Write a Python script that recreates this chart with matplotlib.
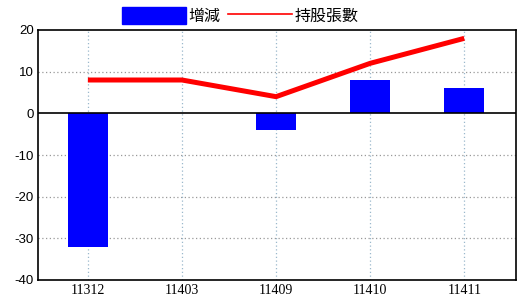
import matplotlib
matplotlib.use('Agg')
import matplotlib.pyplot as plt
import numpy as np
from matplotlib.patches import Rectangle
from matplotlib.lines import Line2D

months = ['11312', '11403', '11409', '11410', '11411']
change = [-32, 0, -4, 8, 6]
holdings = [8, 8, 4, 12, 18]
yticks = [20, 10, 0, -10, -20, -30, -40]

plt.rcParams['font.family'] = ['Noto Sans CJK TC', 'DejaVu Sans']

fig = plt.figure(figsize=(5.2, 3.0), dpi=100)
ax = fig.add_axes([38 / 520, 20 / 300, 478 / 520, 250 / 300])

x = np.arange(len(months))
ax.bar(x, change, width=0.43, color='#0000ff', zorder=3)
ax.plot(x, holdings, color='#ff0000', linewidth=3.6, zorder=4, solid_capstyle='butt')

ax.set_xlim(-0.53, 4.55)
ax.set_ylim(-40, 20)
ax.set_yticks(yticks)
ax.set_yticklabels([str(v) for v in yticks], family='Liberation Sans', fontsize=9.5)
ax.set_xticks(x)
ax.set_xticklabels(months, family='Liberation Serif', fontsize=10)
ax.tick_params(length=0, pad=3)

for v in [10, -10, -20, -30]:
    ax.axhline(v, color='#999999', linestyle=(0, (1, 2)), linewidth=0.9, zorder=1)
for xi in x:
    ax.axvline(xi, color='#9bb8cc', linestyle=(0, (1, 2)), linewidth=0.9, zorder=1)
ax.axhline(0, color='black', linewidth=1.2, zorder=5)

for s in ax.spines.values():
    s.set_color('black')
    s.set_linewidth(1.2)

handles = [Rectangle((0, 0), 1, 1, color='#0000ff'),
           Line2D([0], [0], color='#ff0000', linewidth=1.2)]
fig.legend(handles, ['增減', '持股張數'], loc='center', bbox_to_anchor=(240 / 520, 1 - 16 / 300),
           ncol=2, frameon=False, fontsize=11.5, handlelength=4.0, handleheight=1.3,
           handletextpad=0.15, columnspacing=0.5)

fig.savefig('out.png', dpi=100)
